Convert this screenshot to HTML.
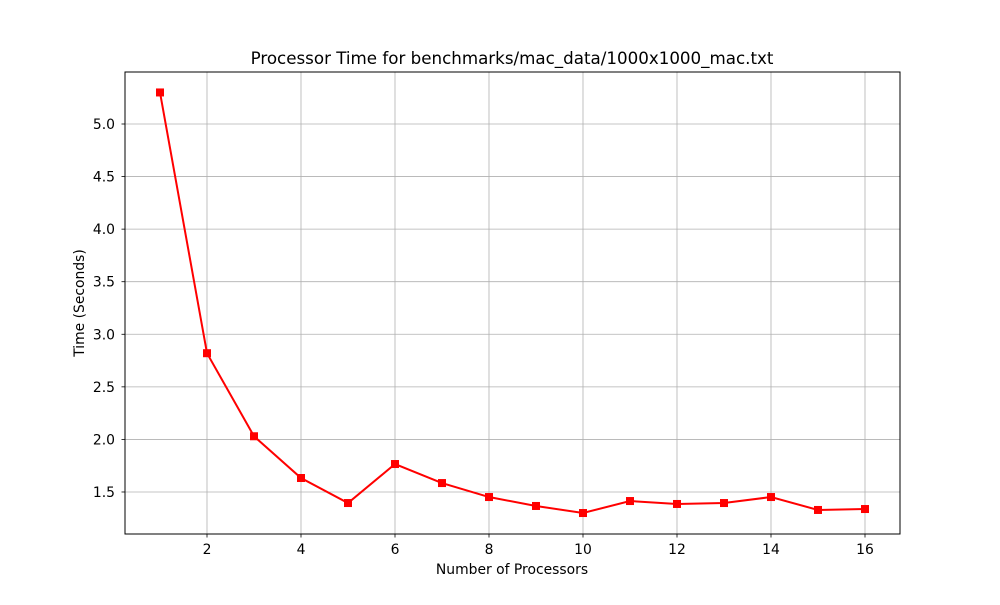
<!DOCTYPE html>
<html><head><meta charset="utf-8"><style>
body{margin:0;background:#fff}
svg{font-family:"DejaVu Sans","Liberation Sans",sans-serif}
</style></head><body>
<svg id="chart" width="1000" height="600">
<rect width="1000" height="600" fill="#fff"/>
<g id="grid"></g>
<g id="ticks"></g>
<g id="series"></g>
<rect x="125" y="72" width="775" height="462" fill="none" stroke="#000" stroke-width="1"/>
<text x="512" y="64" text-anchor="middle" font-size="16.7">Processor Time for benchmarks/mac_data/1000x1000_mac.txt</text>
<text x="512" y="574" text-anchor="middle" font-size="13.9">Number of Processors</text>
<text transform="translate(84,303) rotate(-90)" text-anchor="middle" font-size="13.9">Time (Seconds)</text>
</svg>
<script>
const processors=[1,2,3,4,5,6,7,8,9,10,11,12,13,14,15,16];
const times=[5.30,2.82,2.03,1.633,1.395,1.766,1.585,1.452,1.367,1.30,1.414,1.386,1.395,1.452,1.329,1.338];
const xTicks=[2,4,6,8,10,12,14,16];
const yTicks=[1.5,2.0,2.5,3.0,3.5,4.0,4.5,5.0];
const NS="http://www.w3.org/2000/svg";
const xs=v=>160+(v-1)*47;
const ys=v=>124-(v-5)*105.14;
function mk(t,a,p){const e=document.createElementNS(NS,t);for(const k in a)e.setAttribute(k,a[k]);p.appendChild(e);return e;}
const grid=document.getElementById('grid'),ticks=document.getElementById('ticks'),ser=document.getElementById('series');
xTicks.forEach(v=>{const x=xs(v);
const g=mk('line',{x1:x,x2:x,y1:72,y2:534,stroke:'#b0b0b0','stroke-width':0.8},grid);


const tk=mk('line',{x1:x,x2:x,y1:534,y2:537.5,stroke:'#000','stroke-width':0.8},ticks);


const t=mk('text',{x:x,y:554,'text-anchor':'middle','font-size':13.9},ticks);t.textContent=v;

});
yTicks.forEach(v=>{const y=ys(v);
const g=mk('line',{x1:125,x2:900,y1:y,y2:y,stroke:'#b0b0b0','stroke-width':0.8},grid);


const tk=mk('line',{x1:121.5,x2:125,y1:y,y2:y,stroke:'#000','stroke-width':0.8},ticks);


const t=mk('text',{x:115,y:y+5,'text-anchor':'end','font-size':13.9},ticks);t.textContent=v.toFixed(1);

});
const pl=mk('polyline',{points:processors.map((p,i)=>xs(p)+','+ys(times[i])).join(' '),fill:'none',stroke:'#ff0000','stroke-width':2},ser);


processors.forEach((p,i)=>{const m=mk('rect',{x:xs(p)-4,y:ys(times[i])-4,width:8,height:8,fill:'#ff0000'},ser);

});
</script>
</body></html>
